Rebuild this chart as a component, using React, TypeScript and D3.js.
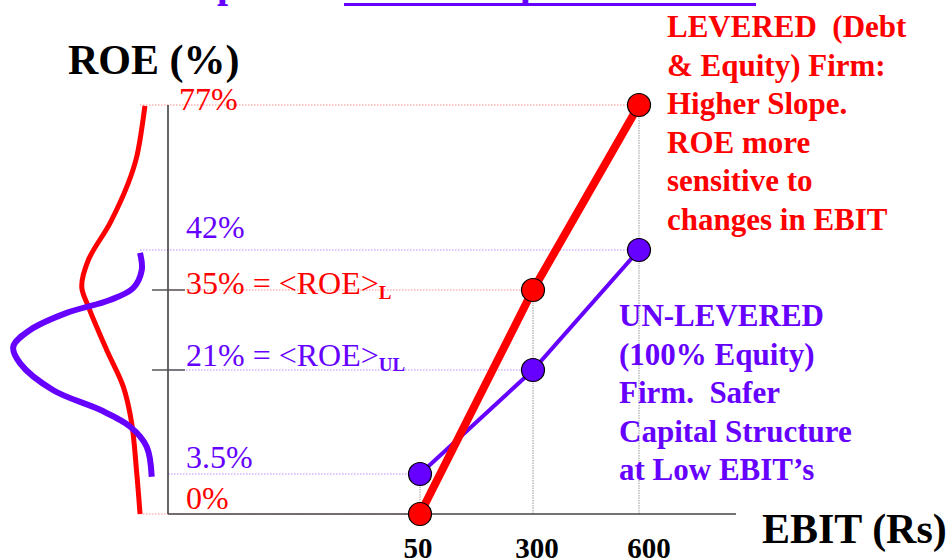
import React from 'react';
import * as d3 from 'd3';

// ---------- data ----------
const ebitValues = [50, 300, 600];
const ebitLabels = ['50', '300', '600'];
const roeLevered = [0, 35, 77];
const roeUnlevered = [3.5, 21, 42];

// reference ROE levels, labels
const refValues = [77, 42, 35, 21, 3.5, 0];
const refMain = ['77%', '42%', '35% = <ROE>', '21% = <ROE>', '3.5%', '0%'];
const refSub = ['', '', 'L', 'UL', '', ''];

// schematic ROE distributions: [ROE %, relative spread]
const leveredDist: [number, number][] = [
  [76.8, 0.146], [64.5, 0.198], [58.2, 0.251], [48.5, 0.367], [40.25, 0.504],
  [35.6, 0.546], [32.1, 0.504], [24.5, 0.388], [18.2, 0.283], [12.1, 0.23],
  [3.7, 0.198], [0, 0.177],
];
const unleveredDist: [number, number][] = [
  [41.5, 0.177], [38.5, 0.166], [35.35, 0.22], [33.25, 0.367], [31.0, 0.641],
  [28, 0.873], [25.1, 0.979], [22.2, 0.937], [17.6, 0.726], [14.3, 0.43],
  [11.5, 0.241], [8.1, 0.135], [3.26, 0.103],
];

const leveredText = [
  'LEVERED  (Debt',
  '& Equity) Firm:',
  'Higher Slope.',
  'ROE more',
  'sensitive to',
  'changes in EBIT',
];
const unleveredText = [
  'UN-LEVERED',
  '(100% Equity)',
  'Firm.  Safer',
  'Capital Structure',
  'at Low EBIT\u2019s',
];

const yTitle = 'ROE (%)';
const xTitle = 'EBIT (Rs)';

// ---------- style ----------
const RED = '#ff0000';
const PURPLE = '#6600ff';
const FONT = '"Liberation Serif", "Times New Roman", serif';

export default function App() {
  const W = 951;
  const H = 558;
  const axisX = 168;
  const axisY = 514;

  const x = d3.scaleLinear().domain(ebitValues).range([420, 533, 639]);
  const y = d3
    .scaleLinear()
    .domain([0, 3.5, 21, 35, 42, 77])
    .range([514, 474, 370, 290, 250, 105]);
  const d = d3.scaleLinear().domain([0, 1]).range([axisX, 10]);

  const line = d3
    .line<[number, number]>()
    .x((p) => x(p[0]))
    .y((p) => y(p[1]));

  const distLine = d3
    .line<[number, number]>()
    .x((p) => d(p[1]))
    .y((p) => y(p[0]))
    .curve(d3.curveCatmullRom.alpha(0.5));

  const levPts: [number, number][] = ebitValues.map((e, i) => [e, roeLevered[i]]);
  const unlPts: [number, number][] = ebitValues.map((e, i) => [e, roeUnlevered[i]]);

  const refInfo = refValues.map((v, i) => {
    let idx = roeLevered.indexOf(v);
    const isLev = idx >= 0;
    if (!isLev) idx = roeUnlevered.indexOf(v);
    return {
      v,
      isLev,
      endX: x(ebitValues[idx]),
      main: refMain[i],
      sub: refSub[i],
    };
  });
  const labelDy = [5, -12, 4, -4, -6, -5];
  const labelX = [179, 186, 186, 186, 186, 186];
  const extendLeft = [true, true, false, false, false, true];
  const tickDx = [-2, 4, 10];

  return (
    <svg
      width={W}
      height={H}
      style={{ position: 'absolute', left: 0, top: 0, background: '#fff', whiteSpace: 'pre' }}
      fontFamily={FONT}
    >
      <rect x={0} y={0} width={W} height={H} fill="#fff" />

      {/* cut-off title fragments */}
      <text x={217} y={-3} fontSize={40} fontWeight="bold" fill={PURPLE}>p</text>
      <text x={520} y={-3} fontSize={40} fontWeight="bold" fill={PURPLE}>p</text>
      <rect x={344} y={3} width={412} height={3} fill={PURPLE} />

      {/* axis titles */}
      <text x={68} y={74} fontSize={42} fontWeight="bold" fill="#000">{yTitle}</text>
      <text x={762} y={543} fontSize={42} fontWeight="bold" fill="#000">{xTitle}</text>

      {/* horizontal reference lines */}
      {refInfo.map((r, i) => (
        <line
          key={'h' + i}
          x1={extendLeft[i] ? 140 : axisX}
          x2={r.endX}
          y1={y(r.v)}
          y2={y(r.v)}
          stroke={r.isLev ? RED : PURPLE}
          strokeOpacity={0.45}
          strokeWidth={1.2}
          strokeDasharray="1.5,1.5"
        />
      ))}

      {/* vertical guide lines */}
      {ebitValues.map((e, i) => (
        <line
          key={'v' + i}
          x1={x(e)}
          x2={x(e)}
          y1={Math.min(y(roeLevered[i]), y(roeUnlevered[i]))}
          y2={i === 0 ? y(roeLevered[i]) : axisY}
          stroke="#999"
          strokeWidth={1}
          strokeDasharray="1.5,1"
        />
      ))}

      {/* axes */}
      <line x1={axisX} x2={axisX} y1={y(77)} y2={axisY} stroke="#000" strokeWidth={1.2} />
      <line x1={axisX} x2={736} y1={axisY} y2={axisY} stroke="#444" strokeWidth={1.4} />
      {[35, 21].map((v) => (
        <line key={'t' + v} x1={152} x2={185} y1={y(v)} y2={y(v)} stroke="#555" strokeWidth={1.5} />
      ))}

      {/* reference labels */}
      {refInfo.map((r, i) => (
        <text
          key={'l' + i}
          x={labelX[i]}
          y={y(r.v) + labelDy[i]}
          fontSize={32}
          fill={r.isLev ? RED : PURPLE}
        >
          {r.main}
          {r.sub ? (
            <tspan fontSize={19} fontWeight="bold" dy={5}>
              {r.sub}
            </tspan>
          ) : null}
        </text>
      ))}

      {/* distributions */}
      <path d={distLine(leveredDist) || ''} fill="none" stroke={RED} strokeWidth={5} />
      <path d={distLine(unleveredDist) || ''} fill="none" stroke={PURPLE} strokeWidth={6} />

      {/* ROE lines */}
      <path d={line(unlPts) || ''} fill="none" stroke={PURPLE} strokeWidth={4} />
      <path d={line(levPts) || ''} fill="none" stroke={RED} strokeWidth={8} />

      {/* markers */}
      {unlPts.map((p, i) => (
        <circle key={'bu' + i} cx={x(p[0])} cy={y(p[1])} r={11.5} fill={PURPLE} stroke="#000" strokeWidth={1.2} />
      ))}
      {levPts.map((p, i) => (
        <circle key={'bl' + i} cx={x(p[0])} cy={y(p[1])} r={11.5} fill={RED} stroke="#000" strokeWidth={1.2} />
      ))}

      {/* x tick labels */}
      {ebitValues.map((e, i) => (
        <text
          key={'x' + i}
          x={x(e) + tickDx[i]}
          y={558}
          fontSize={29}
          fontWeight="bold"
          textAnchor="middle"
          fill="#000"
        >
          {ebitLabels[i]}
        </text>
      ))}

      {/* annotations */}
      <text fontSize={31} fontWeight="bold" fill={RED} xmlSpace="preserve">
        {leveredText.map((t, i) => (
          <tspan key={i} x={667} y={37 + i * 38.5}>
            {t}
          </tspan>
        ))}
      </text>
      <text fontSize={31} fontWeight="bold" fill={PURPLE} xmlSpace="preserve">
        {unleveredText.map((t, i) => (
          <tspan key={i} x={619} y={326 + i * 38.5}>
            {t}
          </tspan>
        ))}
      </text>
    </svg>
  );
}
